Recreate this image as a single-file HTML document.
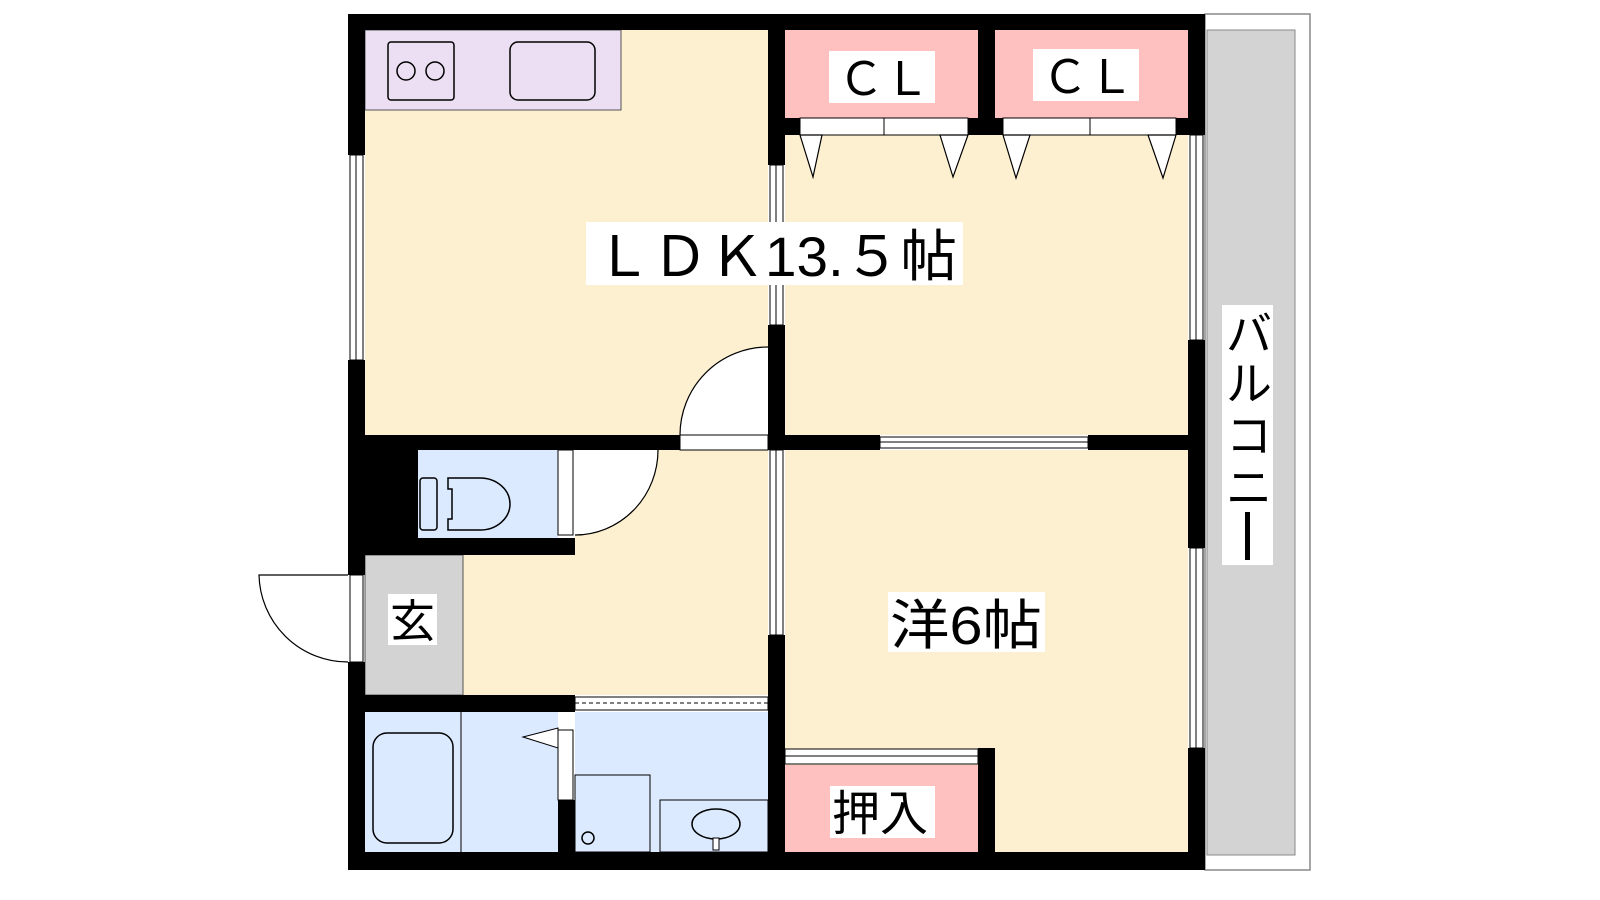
<!DOCTYPE html>
<html><head><meta charset="utf-8"><style>
html,body{margin:0;padding:0;background:#fff;}
svg{display:block;}
text{font-family:"Liberation Sans","Noto Sans CJK JP",sans-serif;fill:#000;}
</style></head><body>
<svg width="1600" height="900" viewBox="0 0 1600 900" xmlns="http://www.w3.org/2000/svg">
<!-- balcony -->
<rect x="1205" y="14" width="105" height="856" fill="#fff" stroke="#888" stroke-width="1.5"/>
<rect x="1207" y="30" width="88" height="825" fill="#d3d3d3" stroke="#888" stroke-width="1"/>
<!-- floors -->
<rect x="365" y="30" width="403" height="405" fill="#fdf0d0"/>
<rect x="785" y="135" width="403" height="300" fill="#fdf0d0"/>
<rect x="365" y="30" width="256" height="80" fill="#ecdff3" stroke="#555" stroke-width="1"/>
<rect x="785" y="30" width="193" height="88" fill="#ffc0c0"/>
<rect x="995" y="30" width="193" height="88" fill="#ffc0c0"/>
<rect x="463" y="555" width="305" height="140" fill="#fdf0d0"/>
<rect x="575" y="450" width="193" height="105" fill="#fdf0d0"/>
<rect x="418" y="450" width="140" height="88" fill="#dbeafe"/>
<rect x="365" y="555" width="98" height="140" fill="#d3d3d3" stroke="#555" stroke-width="1"/>
<path d="M575,450 H658 A83,85 0 0 1 575,535 Z" fill="#fff"/>
<path d="M768,435 H680 A88,88 0 0 1 768,347 Z" fill="#fff"/>
<rect x="365" y="712" width="193" height="140" fill="#dbeafe"/>
<rect x="575" y="712" width="193" height="140" fill="#dbeafe"/>
<rect x="785" y="450" width="403" height="402" fill="#fdf0d0"/>
<rect x="785" y="765" width="193" height="87" fill="#ffc0c0"/>
<!-- kitchen fixtures -->
<rect x="388" y="42" width="66" height="58" rx="3" fill="none" stroke="#000" stroke-width="1.5"/>
<circle cx="406" cy="71" r="9" fill="none" stroke="#000" stroke-width="1.5"/>
<circle cx="435" cy="71" r="9" fill="none" stroke="#000" stroke-width="1.5"/>
<rect x="510" y="42" width="85" height="58" rx="8" fill="none" stroke="#000" stroke-width="1.5"/>
<!-- bath fixtures -->
<rect x="373" y="733" width="80" height="110" rx="14" fill="none" stroke="#000" stroke-width="1.5"/>
<line x1="461" y1="712" x2="461" y2="852" stroke="#000" stroke-width="1"/>
<rect x="575" y="775" width="75" height="77" fill="none" stroke="#000" stroke-width="1"/>
<rect x="660" y="800" width="108" height="52" fill="none" stroke="#000" stroke-width="1"/>
<circle cx="588" cy="838" r="6" fill="none" stroke="#000" stroke-width="1.5"/>
<ellipse cx="716" cy="824" rx="24" ry="15" fill="none" stroke="#000" stroke-width="1.5"/>
<rect x="713" y="838" width="6" height="12" fill="#fff" stroke="#000"/>
<polygon points="523,737 558,728 558,748" fill="#fff" stroke="#000"/>
<!-- toilet -->
<rect x="420" y="478" width="17" height="52" rx="3" fill="none" stroke="#000" stroke-width="1.5"/>
<path d="M448,478 H480 A30,26 0 0 1 480,530 H448 V519 H452 V489 H448 Z" fill="none" stroke="#000" stroke-width="1.5"/>
<!-- walls -->
<g fill="#000">
<rect x="348" y="14" width="857" height="16"/>
<rect x="348" y="14" width="17" height="141"/>
<rect x="348" y="360" width="17" height="215"/>
<rect x="348" y="662" width="17" height="208"/>
<rect x="348" y="852" width="857" height="18"/>
<rect x="1188" y="14" width="17" height="121"/>
<rect x="1188" y="340" width="17" height="208"/>
<rect x="1188" y="748" width="17" height="122"/>
<rect x="768" y="14" width="17" height="151"/>
<rect x="768" y="325" width="17" height="125"/>
<rect x="768" y="635" width="17" height="217"/>
<rect x="978" y="14" width="17" height="121"/>
<rect x="785" y="118" width="15" height="17"/>
<rect x="968" y="118" width="35" height="17"/>
<rect x="1176" y="118" width="12" height="17"/>
<rect x="348" y="435" width="332" height="15"/>
<rect x="768" y="435" width="112" height="15"/>
<rect x="1088" y="435" width="100" height="15"/>
<rect x="365" y="450" width="53" height="105"/>
<rect x="365" y="538" width="210" height="17"/>
<rect x="348" y="695" width="227" height="17"/>
<rect x="558" y="800" width="17" height="52"/>
<rect x="978" y="748" width="17" height="104"/>
</g>
<!-- windows / sliding doors -->
<g fill="#fff" stroke="#000" stroke-width="1">
<rect x="800" y="118" width="168" height="17"/><line x1="884" y1="118" x2="884" y2="135"/>
<rect x="1003" y="118" width="173" height="17"/><line x1="1090" y1="118" x2="1090" y2="135"/>
<rect x="880" y="437" width="208" height="11"/><line x1="880" y1="442" x2="1088" y2="442"/>
<rect x="350" y="155" width="13" height="205"/><line x1="356" y1="155" x2="356" y2="360"/>
<rect x="1190" y="135" width="13" height="205"/><line x1="1196" y1="135" x2="1196" y2="340"/>
<rect x="1190" y="548" width="13" height="200"/><line x1="1196" y1="548" x2="1196" y2="748"/>
<rect x="770" y="165" width="13" height="160"/><line x1="776" y1="165" x2="776" y2="325"/>
<rect x="770" y="450" width="13" height="185"/><line x1="776" y1="450" x2="776" y2="635"/>
<rect x="785" y="749" width="193" height="15"/><line x1="785" y1="756" x2="978" y2="756"/>
<rect x="575" y="697" width="193" height="13"/><line x1="575" y1="703" x2="768" y2="703" stroke-dasharray="4,3"/>
<rect x="558" y="450" width="15" height="85"/>
<rect x="558" y="730" width="15" height="70"/>
<rect x="350" y="575" width="13" height="87"/>
<rect x="680" y="435" width="88" height="15"/>
</g>
<!-- door swings -->
<g fill="none" stroke="#000" stroke-width="1.2">
<path d="M680,435 A88,88 0 0 1 768,347"/>
<path d="M575,535 A83,85 0 0 0 658,450"/>
<path d="M348,575 H259 A89,89 0 0 0 348,662"/>
</g>
<g fill="#fff" stroke="#000" stroke-width="1.2">
<polygon points="800,135 822,135 813,177"/>
<polygon points="940,135 968,135 953,177"/>
<polygon points="1003,135 1030,135 1016,178"/>
<polygon points="1148,135 1176,135 1163,178"/>
</g>
<!-- labels -->
<rect x="586" y="222" width="377" height="63" fill="#fff"/>
<text x="595" y="276" font-size="56" textLength="362" lengthAdjust="spacingAndGlyphs">ＬＤＫ13.５帖</text>
<rect x="829" y="51" width="106" height="52" fill="#fff"/>
<text x="838" y="95" font-size="46">ＣＬ</text>
<rect x="1033" y="49" width="106" height="52" fill="#fff"/>
<text x="1042" y="93" font-size="46">ＣＬ</text>
<rect x="888" y="592" width="157" height="60" fill="#fff"/>
<text x="890" y="644" font-size="54" textLength="152" lengthAdjust="spacingAndGlyphs">洋6帖</text>
<rect x="830" y="786" width="105" height="52" fill="#fff"/>
<text x="832" y="830" font-size="48">押入</text>
<rect x="388" y="594" width="49" height="51" fill="#fff"/>
<text x="390" y="637" font-size="45">玄</text>
<rect x="1222" y="305" width="51" height="260" fill="#fff"/>
<text x="1226" y="350" font-size="46">バ</text>
<text x="1226" y="400" font-size="46">ル</text>
<text x="1226" y="452" font-size="46">コ</text>
<text x="1226" y="504" font-size="46">ニ</text>
<rect x="1245" y="512" width="5" height="48" fill="#000"/>
</svg>
</body></html>
